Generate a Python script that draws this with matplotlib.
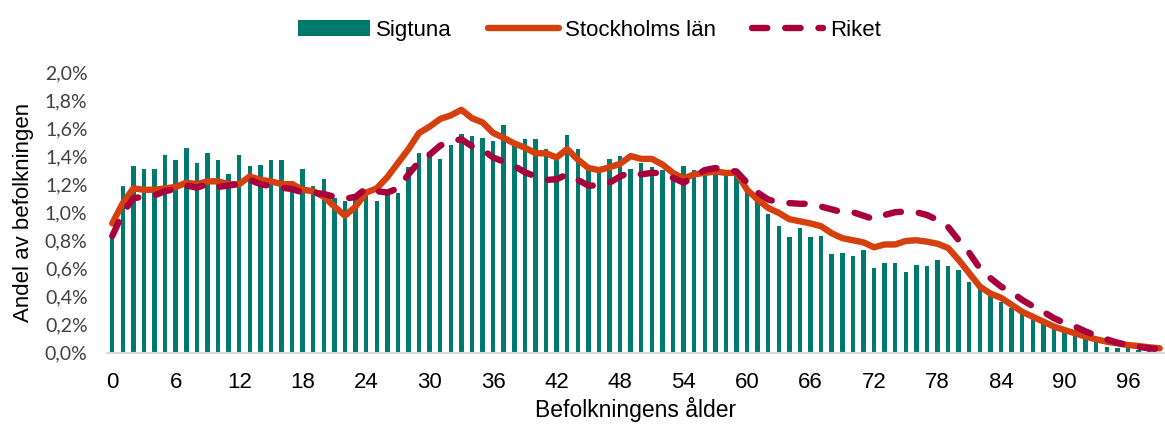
import matplotlib.pyplot as plt
import numpy as np

plt.rcParams['font.family'] = ['Liberation Sans', 'DejaVu Sans']

# ------------------------------- Data (andel, %) ------------------------------ #
ages = np.arange(0, 100)

sigtuna = [0.85, 1.19, 1.33, 1.31, 1.31, 1.41, 1.37, 1.46, 1.35, 1.42,
           1.37, 1.27, 1.41, 1.33, 1.34, 1.375, 1.37, 1.22, 1.31, 1.19,
           1.24, 1.10, 1.08, 1.13, 1.13, 1.08, 1.15, 1.14, 1.32, 1.42,
           1.43, 1.38, 1.48, 1.56, 1.54, 1.53, 1.51, 1.62, 1.51, 1.52,
           1.52, 1.45, 1.38, 1.55, 1.45, 1.30, 1.29, 1.38, 1.40, 1.31,
           1.35, 1.32, 1.30, 1.26, 1.33, 1.30, 1.27, 1.28, 1.27, 1.26,
           1.15, 1.09, 0.99, 0.90, 0.82, 0.89, 0.82, 0.83, 0.70, 0.71,
           0.69, 0.73, 0.60, 0.64, 0.64, 0.575, 0.625, 0.62, 0.66, 0.62,
           0.59, 0.50, 0.45, 0.40, 0.36, 0.32, 0.28, 0.26, 0.21, 0.18,
           0.15, 0.125, 0.10, 0.077, 0.037, 0.035, 0.03, 0.02, 0.01, 0.005]

stockholm = [0.92, 1.065, 1.17, 1.16, 1.16, 1.17, 1.18, 1.21, 1.20, 1.22,
             1.22, 1.20, 1.20, 1.255, 1.23, 1.22, 1.20, 1.20, 1.16, 1.15,
             1.11, 1.04, 0.975, 1.04, 1.14, 1.17, 1.25, 1.35, 1.45, 1.565,
             1.61, 1.665, 1.69, 1.73, 1.67, 1.64, 1.565, 1.53, 1.49, 1.46,
             1.42, 1.42, 1.39, 1.45, 1.375, 1.315, 1.30, 1.32, 1.345, 1.40,
             1.38, 1.38, 1.34, 1.28, 1.24, 1.27, 1.28, 1.29, 1.28, 1.28,
             1.16, 1.09, 1.03, 0.995, 0.95, 0.935, 0.92, 0.90, 0.85, 0.815,
             0.80, 0.785, 0.75, 0.77, 0.77, 0.795, 0.80, 0.79, 0.775, 0.745,
             0.66, 0.565, 0.47, 0.42, 0.39, 0.34, 0.29, 0.255, 0.22, 0.185,
             0.16, 0.137, 0.113, 0.094, 0.077, 0.065, 0.053, 0.046, 0.037, 0.03]

riket = [0.83, 0.995, 1.10, 1.11, 1.12, 1.15, 1.165, 1.19, 1.175, 1.20,
         1.18, 1.19, 1.20, 1.23, 1.20, 1.185, 1.175, 1.165, 1.14, 1.14,
         1.13, 1.11, 1.095, 1.11, 1.17, 1.15, 1.14, 1.17, 1.27, 1.36,
         1.41, 1.475, 1.505, 1.52, 1.47, 1.445, 1.39, 1.36, 1.33, 1.285,
         1.255, 1.23, 1.235, 1.27, 1.23, 1.19, 1.19, 1.21, 1.255, 1.285,
         1.27, 1.28, 1.28, 1.245, 1.21, 1.255, 1.30, 1.315, 1.30, 1.29,
         1.21, 1.14, 1.09, 1.07, 1.065, 1.06, 1.06, 1.04, 1.02, 1.00,
         1.00, 0.975, 0.95, 0.98, 1.00, 1.005, 1.00, 0.98, 0.945, 0.895,
         0.80, 0.71, 0.60, 0.53, 0.47, 0.43, 0.375, 0.33, 0.29, 0.245,
         0.21, 0.185, 0.15, 0.12, 0.094, 0.07, 0.053, 0.04, 0.03, 0.023]

xtick_ages = np.arange(0, 100, 6)
yticks = np.arange(0, 2.01, 0.2)

# --------------------------------- Plotting --------------------------------- #
fig = plt.figure(figsize=(11.65, 4.28), dpi=100)
ax = fig.add_axes([0.0918, 0.1764, 0.9082, 0.6556])

bars = ax.bar(ages, sigtuna, width=0.42, color='#007A6C', label='Sigtuna', zorder=1)
l_sthlm, = ax.plot(ages, stockholm, lw=4.6, color='#D5400F', solid_capstyle='round',
                   label='Stockholms län', zorder=2)
l_riket, = ax.plot(ages, riket, lw=4.6, color='#A8003C', linestyle=(0, (2.4, 2.8)),
                   dash_capstyle='round', label='Riket', zorder=3)

ax.set_xlim(-0.5, 99.5)
ax.set_ylim(0, 2.0)
ax.set_yticks(yticks)
ax.set_yticklabels([f'{v:.1f}%'.replace('.', ',') for v in yticks],
                   fontsize=14, color='#404040', family=['Lato', 'DejaVu Sans'])
ax.set_xticks(xtick_ages)
ax.set_xticklabels([str(a) for a in xtick_ages], fontsize=16)
ax.tick_params(axis='y', length=0, pad=14)
ax.tick_params(axis='x', length=0, pad=14)

for s in ['top', 'right', 'left']:
    ax.spines[s].set_visible(False)
ax.spines['bottom'].set_color('#D9D9D9')
ax.spines['bottom'].set_linewidth(1.5)

ax.set_xlabel('Befolkningens ålder', fontsize=16.5, labelpad=3)
ax.set_ylabel('Andel av befolkningen', fontsize=16, labelpad=8)

fig.legend(handles=[bars, l_sthlm, l_riket], loc='upper center',
           bbox_to_anchor=(0.506, 1.0), ncol=3, frameon=False,
           fontsize=16, handlelength=3.2, handletextpad=0.3, columnspacing=1.6)

fig.savefig('out.png', dpi=100)
